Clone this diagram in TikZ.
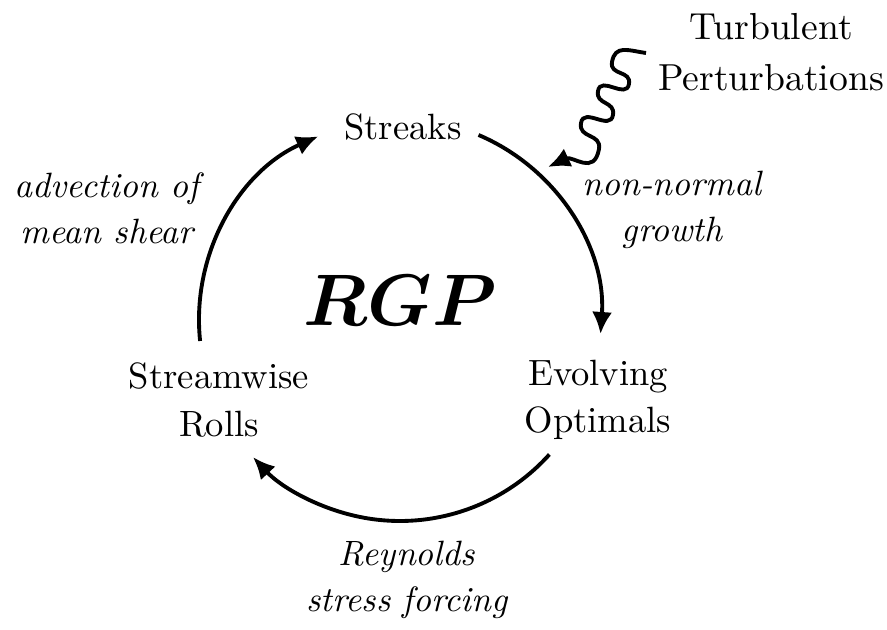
\documentclass[tikz,border=0pt]{standalone}
\usepackage{amsfonts}
\usepackage{amsmath}
\usepackage{tikz}
\usetikzlibrary{arrows.meta}

\begin{document}
\begin{tikzpicture}[x=0.01cm,y=0.01cm,
  stage/.style={align=center,font=\fontsize{10.4}{13.4}\selectfont},
  mech/.style={align=center,font=\fontsize{10}{13.1}\selectfont\itshape},
  cyc/.style={line width=1.1pt,-{Latex[length=2.2mm,width=2mm]}}]
\useasboundingbox (0,0) rectangle (887,630);
\coordinate (hub) at (400,310);
\node[stage] (streaks) at (403,503) {Streaks};
\node[stage] (optimals) at (598,230) {Evolving\\Optimals};
\node[stage] (rolls) at (219,230) {Streamwise\\Rolls};
\node[stage,font=\fontsize{10.7}{14.5}\selectfont] (turb) at (771,578) {Turbulent\\Perturbations};
\node[mech] (growth) at (672,420) {non-normal\\growth};
\node[mech] (forcing) at (407,50) {Reynolds\\stress forcing};
\node[mech] (shear) at (107,422) {advection of\\mean shear};
\node[font=\fontsize{21.3}{26}\selectfont] (rgp) at (400,330) {$\boldsymbol{RGP}$};
\draw[cyc] (hub) ++(186:201) arc[start angle=186,end angle=114,radius=201];
\draw[cyc] (hub) ++(67:201) arc[start angle=67,end angle=-4,radius=201];
\draw[cyc] (hub) ++(-42:201) arc[start angle=-42,end angle=-137,radius=201];
% wavy kick from the turbulence onto the streaks arc
\coordinate (wave) at (646,577);
\coordinate (kick) at (548,463);
\draw[cyc,looseness=1.3] (wave) to[out=172,in=80] (612,568) to[out=260,in=80] (629,546)
  to[out=260,in=80] (598,539) to[out=260,in=80] (613,515)
  to[out=260,in=80] (581,507) to[out=260,in=80] (599,481)
  to[out=260,in=25] (kick);
\end{tikzpicture}
\end{document}
